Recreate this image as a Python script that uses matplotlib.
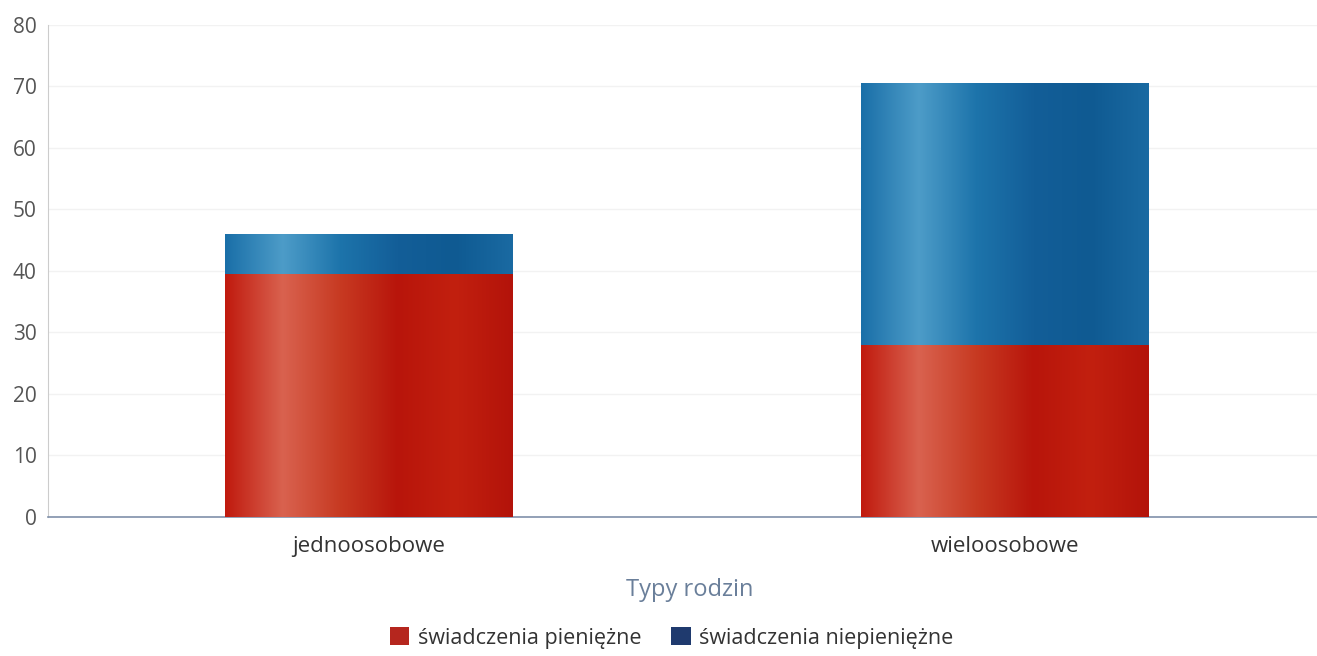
import numpy as np
import matplotlib
matplotlib.use("Agg")
import matplotlib.pyplot as plt
from matplotlib.colors import LinearSegmentedColormap
from matplotlib.patches import Patch

plt.rcParams["font.family"] = ["Open Sans", "DejaVu Sans"]

categories = ["jednoosobowe", "wieloosobowe"]
pieniezne = [39.5, 28]
niepieniezne = [6.5, 42.5]
series_names = ["świadczenia pieniężne", "świadczenia niepieniężne"]
yticks = [0, 10, 20, 30, 40, 50, 60, 70, 80]

red_cmap = LinearSegmentedColormap.from_list(
    "red", ["#c01a0e", "#d9624f", "#c73a22", "#b8150b", "#c2200f", "#b3130a"])
blue_cmap = LinearSegmentedColormap.from_list(
    "blue", ["#1a6fa8", "#4d9cc8", "#1d74ab", "#135e98", "#0f5a92", "#1a6aa2"])

fig = plt.figure(figsize=(13.17, 6.56), dpi=100)
ax = fig.add_axes([0.0364, 0.212, 0.9636, 0.75])

x = np.arange(len(categories))
width = 0.452
b1 = ax.bar(x, pieniezne, width, color="#c01a0e", label=series_names[0], zorder=2)
b2 = ax.bar(x, niepieniezne, width, bottom=pieniezne, color="#1a6fa8",
            label=series_names[1], zorder=2)

# shaded look of the bars
grad = np.linspace(0, 1, 256).reshape(1, -1)
for bars, cmap in [(b1, red_cmap), (b2, blue_cmap)]:
    for p in bars:
        x0, y0 = p.get_x(), p.get_y()
        im = ax.imshow(grad, cmap=cmap, aspect="auto", zorder=3,
                       extent=[x0, x0 + p.get_width(), y0, y0 + p.get_height()])
        im.set_clip_path(p)

ax.set_xlim(-0.504, 1.49)
ax.set_ylim(0, 80)
ax.set_yticks(yticks)
ax.set_xticks(x)
ax.set_xticklabels(categories)
ax.tick_params(axis="y", length=0, pad=8, labelsize=15, labelcolor="#555555")
ax.tick_params(axis="x", length=0, pad=14, labelsize=16, labelcolor="#333333")
ax.grid(axis="y", color="#f2f2f2", linewidth=1, zorder=0)
ax.set_axisbelow(True)

for s in ["top", "right"]:
    ax.spines[s].set_visible(False)
ax.spines["left"].set_color("#cccccc")
ax.spines["bottom"].set_color("#8090aa")
ax.spines["bottom"].set_linewidth(1.2)

fig.text(690 / 1317, 1 - 590 / 656, "Typy rodzin", ha="center", va="center",
         fontsize=17, color="#6a7f9a")

handles = [Patch(facecolor="#b5261e"), Patch(facecolor="#1f3a6e")]
fig.legend(handles, series_names, loc="center", bbox_to_anchor=(0.51, 1 - 638 / 656),
           ncol=2, frameon=False, fontsize=15.5, handlelength=0.9, handleheight=0.9,
           handletextpad=0.4, columnspacing=1.4, labelcolor="#333333")

fig.savefig("out.png", dpi=100)
